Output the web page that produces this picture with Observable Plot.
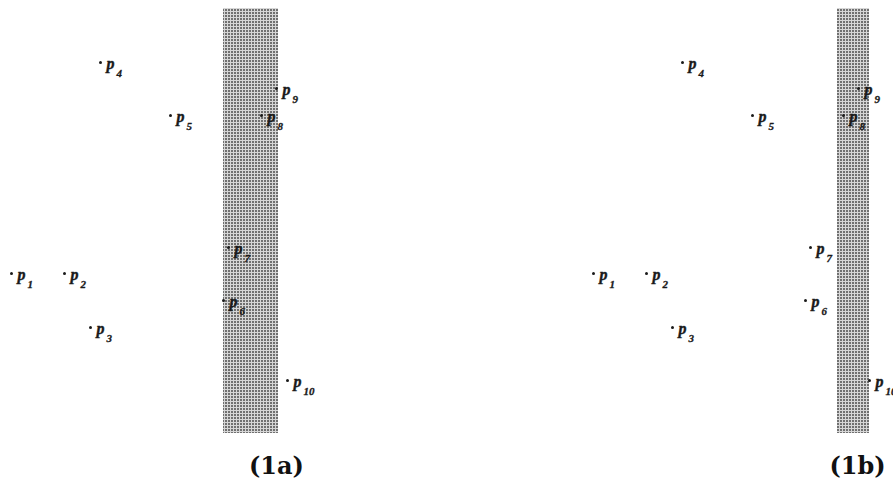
<!DOCTYPE html>
<html><head><meta charset="utf-8">
<script src="https://cdn.jsdelivr.net/npm/d3@7"></script>
<script src="https://cdn.jsdelivr.net/npm/@observablehq/plot@0.6"></script>
<style>body{margin:0;background:#fff;overflow:hidden}</style>
</head><body><div id="chart"></div>
<script>
// Panels
const panels = ["(1a)", "(1b)"];
// Points (same configuration in both panels)
const pointNames = ["1", "2", "3", "4", "5", "6", "7", "8", "9", "10"];
const pointX = [11, 64, 90, 100, 170, 223, 228, 261, 276, 287];
const pointY = [273, 273, 327, 62, 115, 300, 247, 115, 88, 380];
// Shaded strip per panel
const bandX1 = [223, 255];
const bandX2 = [278, 287];
const bandY1 = [8, 8];
const bandY2 = [433, 433];
// Panel captions
const captionX = [276, 275];
const captionY = [473, 473];

const points = panels.flatMap(panel =>
  pointNames.map((n, i) => ({panel, n, x: pointX[i], y: pointY[i]})));
const bands = panels.map((panel, i) => ({panel, x1: bandX1[i], x2: bandX2[i], y1: bandY1[i], y2: bandY2[i]}));
const captions = panels.map((panel, i) => ({panel, x: captionX[i], y: captionY[i]}));

const W = 893, H = 481;
const pad = 2 - W / 582;
const labelFont = "Liberation Serif";

const svg = Plot.plot({
  width: W, height: H,
  margin: 0,
  fx: {domain: panels, axis: null, paddingInner: pad, paddingOuter: 0, round: false},
  x: {domain: [0, 311], axis: null},
  y: {domain: [0, H], range: [0, H], axis: null},
  marks: [
    Plot.rect(bands, {fx: "panel", x1: "x1", x2: "x2", y1: "y1", y2: "y2", fill: "url(#stipple)"}),
    Plot.dot(points, {fx: "panel", x: "x", y: "y", r: 1.5, fill: "#1a1a1a", stroke: "none"}),
    Plot.text(points, {fx: "panel", x: "x", y: "y", text: () => "p", dx: 6, dy: 6,
      textAnchor: "start", lineAnchor: "bottom", fontSize: 16, fontStyle: "italic",
      fontWeight: "bold", fontFamily: labelFont, fill: "#1a1a1a", stroke: "#1a1a1a", strokeWidth: 0.4}),
    Plot.text(points, {fx: "panel", x: "x", y: "y", text: "n", dx: 16, dy: 14,
      textAnchor: "start", lineAnchor: "bottom", fontSize: 11, fontStyle: "italic",
      fontWeight: "bold", fontFamily: labelFont, fill: "#1a1a1a", stroke: "#1a1a1a", strokeWidth: 0.3}),
    Plot.text(captions, {fx: "panel", x: "x", y: "y", text: "panel",
      textAnchor: "middle", lineAnchor: "bottom", fontSize: 24, fontWeight: "bold",
      fontFamily: "DejaVu Serif", fill: "#111"})
  ]
});

const defs = d3.select(svg).insert("defs", ":first-child");
const pat = defs.append("pattern").attr("id", "stipple")
  .attr("patternUnits", "userSpaceOnUse").attr("width", 3).attr("height", 3);
pat.append("rect").attr("width", 3).attr("height", 3).attr("fill", "#d6d6d6");
pat.append("rect").attr("x", 0).attr("y", 0).attr("width", 2).attr("height", 2).attr("fill", "#707070");

document.getElementById("chart").append(svg);
</script>
</body></html>
